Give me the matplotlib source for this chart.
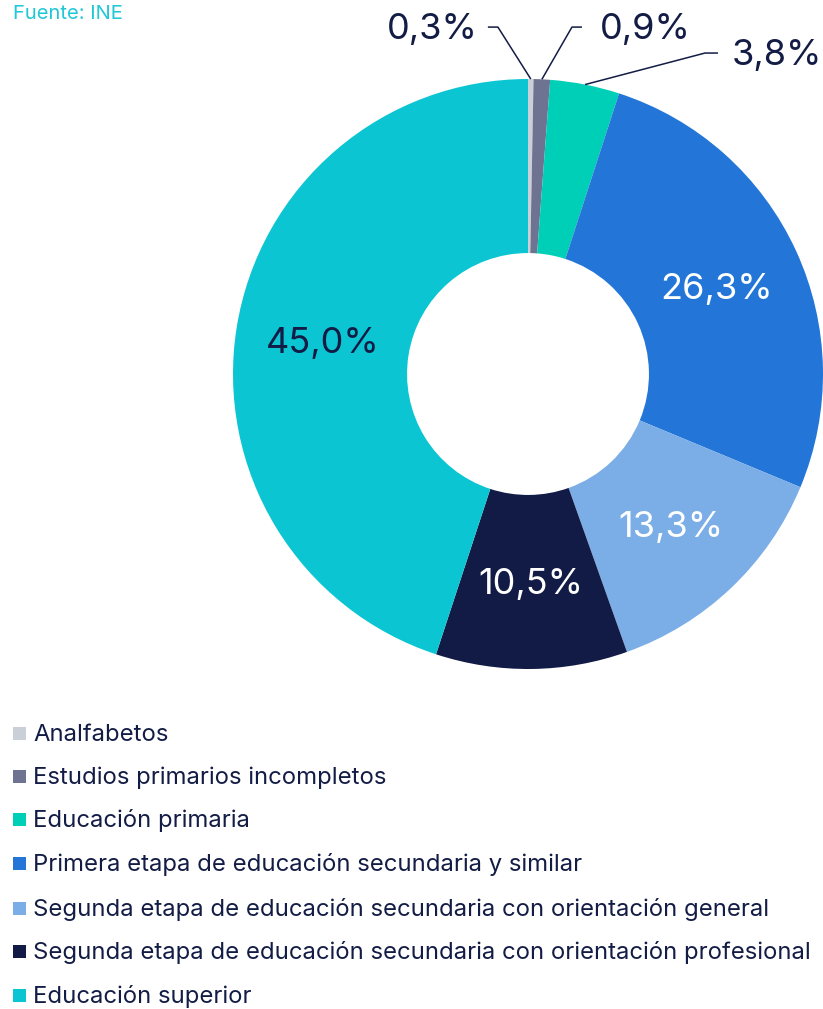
import matplotlib
matplotlib.use('agg')
import matplotlib.pyplot as plt
import numpy as np
from matplotlib.patches import Rectangle

plt.rcParams['font.family'] = ['Inter', 'DejaVu Sans']

# data
categories = ['Analfabetos',
              'Estudios primarios incompletos',
              'Educación primaria',
              'Primera etapa de educación secundaria y similar',
              'Segunda etapa de educación secundaria con orientación general',
              'Segunda etapa de educación secundaria con orientación profesional',
              'Educación superior']
values = [0.3, 0.9, 3.8, 26.3, 13.3, 10.5, 45.0]
labels = ['0,3%', '0,9%', '3,8%', '26,3%', '13,3%', '10,5%', '45,0%']
colors = ['#cbcfd8', '#6d7390', '#00cfb8', '#2376d8', '#7badE6', '#121b45', '#0bc6d2']
label_colors = [None, None, None, 'white', 'white', 'white', '#131c45']

navy = '#131c45'
W, H = 823, 1009
fig = plt.figure(figsize=(W / 100, H / 100), dpi=100)

# pie axes: center (528,374) px, radius 295 px
cx, cy, R = 528, 374, 295
ax = fig.add_axes([(cx - R) / W, (H - cy - R) / H, 2 * R / W, 2 * R / H])
wedges, _ = ax.pie(values, colors=colors, startangle=90, counterclock=False,
                   radius=1, wedgeprops=dict(width=0.59, linewidth=0))
ax.set_xlim(-1, 1)
ax.set_ylim(-1, 1)
ax.set_aspect('equal')
ax.axis('off')

# inside labels
for w, lab, lc in zip(wedges, labels, label_colors):
    if lc is None:
        continue
    ang = np.deg2rad((w.theta1 + w.theta2) / 2)
    ax.text(0.705 * np.cos(ang), 0.705 * np.sin(ang) - 0.008, lab, color=lc,
            fontsize=26, ha='center', va='center')

# outside labels for the small slices (elbow point, end point, text x, ha)
outside = {
    0: ((-0.102, 1.176), (-0.136, 1.176), -0.169, 'right'),
    1: ((0.149, 1.176), (0.183, 1.176), 0.244, 'left'),
    2: ((0.600, 1.088), (0.644, 1.088), 0.692, 'left'),
}
for i, (elbow, end, tx, ha) in outside.items():
    w = wedges[i]
    ang = np.deg2rad((w.theta1 + w.theta2) / 2)
    x0, y0 = np.cos(ang), np.sin(ang)
    ax.plot([x0, elbow[0], end[0]], [y0, elbow[1], end[1]], color=navy,
            lw=1.1, clip_on=False, solid_capstyle='butt')
    ax.text(tx, end[1] - 0.008, labels[i], color=navy, fontsize=26,
            ha=ha, va='center')

# source
fig.text(13 / W, 1 - 19 / H, 'Fuente: INE', color='#1ec8d6', fontsize=14.5,
         ha='left', va='baseline')

# legend (square centres in px)
row_y = [733, 776, 819.5, 863, 908, 951.5, 995]
for cat, col, y in zip(categories, colors, row_y):
    fig.patches.append(Rectangle((13 / W, 1 - (y + 6.5) / H), 13 / W, 13 / H,
                                 transform=fig.transFigure, facecolor=col,
                                 edgecolor='none'))
    fig.text(33 / W, 1 - (y + 8) / H, cat, color=navy, fontsize=17.2,
             ha='left', va='baseline')

fig.savefig('out.png', dpi=100)
